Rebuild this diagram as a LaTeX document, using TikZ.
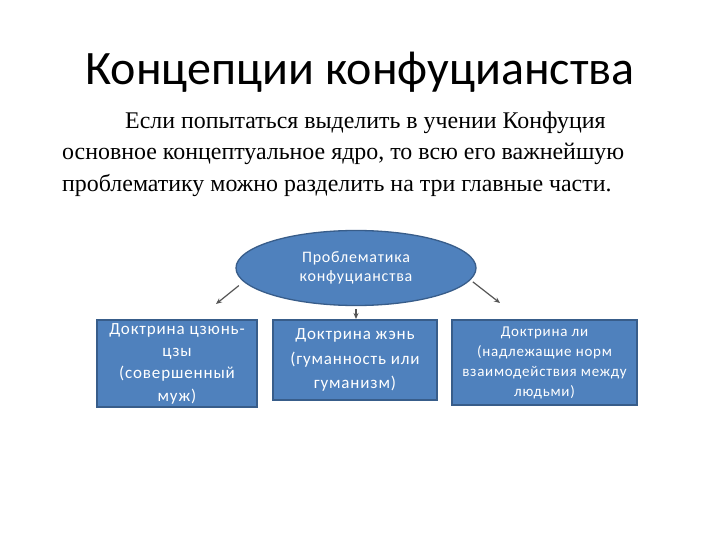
\documentclass[tikz,border=0pt]{standalone}
\usepackage{fontspec}
\setmainfont{Liberation Serif}
\newfontfamily\calfont{Carlito}
\newfontfamily\calwide[LetterSpace=5]{Carlito}
\usetikzlibrary{shapes.geometric,arrows.meta}
\definecolor{boxfill}{HTML}{4F81BD}
\definecolor{boxborder}{HTML}{385D8A}
\definecolor{arrowgray}{HTML}{555555}
\begin{document}
\begin{tikzpicture}[x=1pt,y=-1pt,
  shapest/.style={draw=boxborder,fill=boxfill,line width=1.3pt,text=white,align=center,inner sep=2pt},
  boxst/.style={shapest,rectangle},
  arr/.style={draw=arrowgray,line width=1.2pt,-{Stealth[length=6pt,width=5pt]}},
  paraline/.style={anchor=base west,inner sep=0pt,font=\fontsize{23.9}{28}\selectfont}]
\useasboundingbox[fill=white] (0,0) rectangle (720,540);

\node[anchor=base,inner sep=0pt,font=\calfont\fontsize{48}{50}\selectfont] (title) at (360,85) {Концепции конфуцианства};

\node[paraline] (p1) at (125,129) {Если попытаться выделить в учении Конфуция};
\node[paraline] (p2) at (62,160) {основное концептуальное ядро, то всю его важнейшую};
\node[paraline] (p3) at (62,192) {проблематику можно разделить на три главные части.};

\node[shapest,ellipse,minimum width=240pt,minimum height=75pt,font=\calwide\fontsize{16}{19}\selectfont] (ell) at (356,268) {Проблематика\\конфуцианства};

\node[boxst,minimum width=160pt,minimum height=87pt,font=\calwide\fontsize{17}{22.3}\selectfont] (b1) at (177,363.5) {Доктрина цзюнь-\\цзы\\(совершенный\\муж)};
\node[boxst,minimum width=164pt,minimum height=80pt,font=\calwide\fontsize{17}{24.5}\selectfont] (b2) at (355,360) {Доктрина жэнь\\(гуманность или\\гуманизм)};
\node[boxst,minimum width=185pt,minimum height=85pt,font=\calwide\fontsize{15}{20}\selectfont] (b3) at (544.5,362.5) {Доктрина ли\\(надлежащие норм\\взаимодействия между\\людьми)};

\coordinate (aL) at (216,304);
\coordinate (aR) at (500,303);
\coordinate (aC) at (356,319);
\draw[arr,shorten <=6pt] (ell.187) -- (aL);
\draw[arr,shorten <=3pt] (ell.-6) -- (aR);
\draw[arr,shorten <=3pt] (ell.south) -- (aC);
\end{tikzpicture}
\end{document}
